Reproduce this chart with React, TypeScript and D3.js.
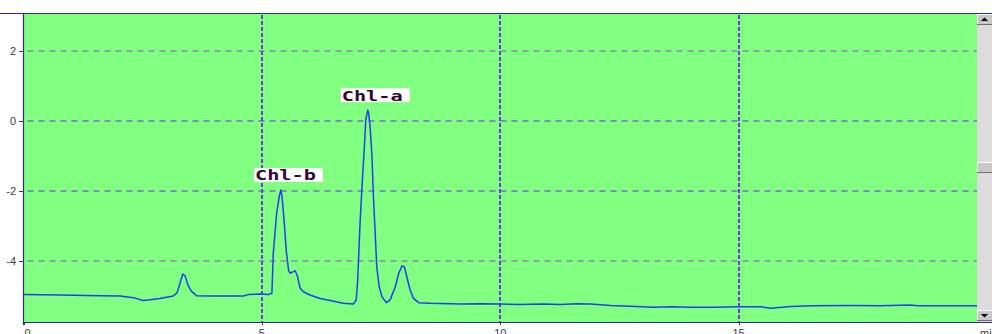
import React from "react";
import * as d3 from "d3";

const times: number[] = [0, 0.77, 1.61, 2.03, 2.34, 2.51, 2.65, 2.86, 3.14, 3.22, 3.27, 3.34, 3.39, 3.45, 3.52, 3.63, 3.91, 4.61, 4.71, 4.96, 5.13, 5.21, 5.24, 5.31, 5.37, 5.4, 5.43, 5.47, 5.51, 5.56, 5.59, 5.65, 5.7, 5.75, 5.8, 5.87, 6.01, 6.22, 6.43, 6.71, 6.92, 6.98, 7.01, 7.06, 7.1, 7.15, 7.18, 7.22, 7.24, 7.27, 7.31, 7.34, 7.38, 7.41, 7.46, 7.52, 7.61, 7.69, 7.8, 7.87, 7.94, 7.99, 8.04, 8.11, 8.18, 8.29, 8.53, 9.16, 9.6, 10.0, 10.42, 10.9, 11.26, 11.6, 11.89, 12.31, 12.73, 13.21, 13.6, 13.99, 14.47, 15.04, 15.46, 15.67, 16.09, 16.57, 17.35, 17.97, 18.6, 18.75, 19.23, 20.0];
const signal: number[] = [-4.96, -4.97, -4.99, -5.0, -5.06, -5.13, -5.11, -5.07, -5.0, -4.91, -4.69, -4.37, -4.43, -4.69, -4.86, -4.99, -5.0, -5.0, -4.96, -4.94, -4.96, -4.92, -3.77, -2.63, -2.11, -1.97, -2.26, -2.91, -3.69, -4.26, -4.35, -4.31, -4.28, -4.45, -4.77, -4.88, -4.97, -5.07, -5.13, -5.21, -5.23, -5.11, -4.54, -2.91, -1.88, -0.73, 0.03, 0.31, 0.22, -0.16, -1.02, -2.16, -3.31, -4.17, -4.73, -5.02, -5.19, -5.11, -4.73, -4.35, -4.14, -4.17, -4.45, -4.83, -5.07, -5.19, -5.21, -5.23, -5.22, -5.23, -5.24, -5.23, -5.24, -5.22, -5.23, -5.27, -5.29, -5.32, -5.31, -5.32, -5.32, -5.31, -5.31, -5.35, -5.3, -5.28, -5.27, -5.28, -5.26, -5.28, -5.28, -5.28];

const xTicks: number[] = [0, 5, 10, 15];
const yTicks: number[] = [2, 0, -2, -4];
const peakNames: string[] = ["Chl-b", "Chl-a"];
const peakTimes: number[] = [5.4, 7.22];
const peakValues: number[] = [-1.97, 0.31];

const W = 992;
const H = 334;
const left = 23.5;
const right = 977;
const top = 13;
const bottom = 322;

export default function App() {
  const x = d3.scaleLinear().domain([0, 20]).range([left, right]);
  const y = d3.scaleLinear().domain([-4, 2]).range([261, 51]);
  const pts: [number, number][] = times.map((t, i) => [t, signal[i]]);
  const line = d3
    .line<[number, number]>()
    .x((d) => x(d[0]))
    .y((d) => y(d[1]))(pts);

  const hColor = (v: number) => (v === 0 || v === -2 ? "#7e6cc8" : "#8c88b0");

  return (
    <svg
      width={W}
      height={H}
      style={{ position: "absolute", left: 0, top: 0, display: "block", background: "#fff" }}
      fontFamily="'Liberation Sans', Arial, sans-serif"
    >
      <rect x={left} y={top} width={right - left} height={bottom - top} fill="#80ff80" />
      {yTicks.map((v) => (
        <line
          key={"h" + v}
          x1={left + 4}
          x2={right}
          y1={Math.round(y(v))}
          y2={Math.round(y(v))}
          stroke={hColor(v)}
          strokeWidth={1.6}
          strokeDasharray="6,5"
        />
      ))}
      {xTicks.filter((t) => t > 0).map((t) => (
        <line
          key={"v" + t}
          x1={Math.round(x(t))}
          x2={Math.round(x(t))}
          y1={top + 2}
          y2={bottom}
          stroke="#7038e0"
          strokeWidth={2}
          strokeDasharray="4,2"
        />
      ))}
      <path d={line || ""} fill="none" stroke="#1f3ff0" strokeWidth={1.5} strokeLinejoin="round" />
      {peakNames.map((n, i) => {
        const px = x(peakTimes[i]);
        const py = y(peakValues[i]);
        return (
          <g key={n}>
            <rect x={px - 27} y={py - 22} width={69} height={14} fill="#ffffff" />
            <text
              x={px - 26}
              y={py - 9.5}
              fontFamily="'DejaVu Sans Mono', monospace"
              fontWeight="bold"
              fontSize={13.5}
              fill="#340634"
              textLength={61}
              lengthAdjust="spacingAndGlyphs"
            >
              {n}
            </text>
          </g>
        );
      })}
      {/* axes */}
      <line x1={0} x2={W} y1={top + 0.5} y2={top + 0.5} stroke="#2a2a90" strokeWidth={1} />
      <line x1={left} x2={W} y1={bottom + 0.5} y2={bottom + 0.5} stroke="#2a2a90" strokeWidth={1.2} />
      <line x1={left} x2={left} y1={top} y2={bottom + 3} stroke="#2a2a90" strokeWidth={1.2} />
      {yTicks.map((v) => (
        <g key={"yt" + v}>
          <line x1={19} x2={left} y1={Math.round(y(v)) + 0.5} y2={Math.round(y(v)) + 0.5} stroke="#404040" />
          <text x={16} y={y(v) + 4} textAnchor="end" fontSize={11} fill="#404040">
            {v < 0 ? "-" + Math.abs(v) : String(v)}
          </text>
        </g>
      ))}
      {xTicks.map((t) => (
        <g key={"xt" + t}>
          <line x1={Math.round(x(t)) + 0.5} x2={Math.round(x(t)) + 0.5} y1={bottom} y2={bottom + 3} stroke="#404040" />
          <text
            x={t === 0 ? x(t) + 1 : x(t)}
            y={337}
            textAnchor={t === 0 ? "start" : "middle"}
            fontSize={11}
            fill="#404040"
          >
            {t}
          </text>
        </g>
      ))}
      <text x={980} y={337} fontSize={11} fill="#404040">min</text>
      {/* scrollbar */}
      <rect x={right} y={top + 1} width={W - right} height={bottom - top - 1} fill="#dcdcdc" />
      {[
        [top + 1, "up"],
        [162, "thumb"],
        [310, "down"],
      ].map(([yy, k]) => {
        const by = yy as number;
        return (
          <g key={k as string}>
            <rect x={right} y={by} width={W - right} height={11} fill="#c8c8c8" />
            <line x1={right} x2={W} y1={by + 0.5} y2={by + 0.5} stroke="#ffffff" />
            <line x1={right + 0.5} x2={right + 0.5} y1={by} y2={by + 11} stroke="#ffffff" />
            <line x1={right} x2={W} y1={by + 10.5} y2={by + 10.5} stroke="#707070" />
            {k === "up" && <path d={`M${right + 4},${by + 7} L${right + 11},${by + 7} L${right + 7.5},${by + 3.5} Z`} fill="#000" />}
            {k === "down" && <path d={`M${right + 4},${by + 4} L${right + 11},${by + 4} L${right + 7.5},${by + 7.5} Z`} fill="#000" />}
          </g>
        );
      })}
    </svg>
  );
}
